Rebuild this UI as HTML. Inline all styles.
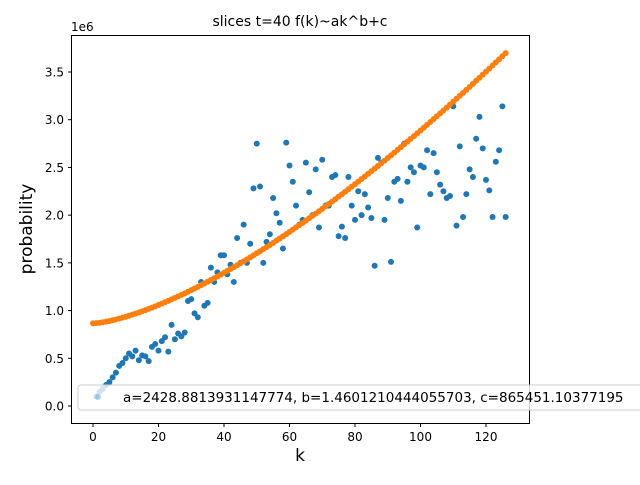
<!DOCTYPE html>
<html><head><meta charset="utf-8"><style>
body{margin:0;background:#fff;}
svg{font-family:"DejaVu Sans","Liberation Sans",sans-serif;}
</style></head><body>
<svg id="chart" width="640" height="480">
<rect x="0" y="0" width="640" height="480" fill="#fff"/>
<text x="300" y="26" font-size="14" text-anchor="middle">slices t=40 f(k)~ak^b+c</text>
<text x="71" y="31" font-size="12">1e6</text>
<g id="plot"></g>
<rect x="71.5" y="35.5" width="458" height="388" fill="none" stroke="#000" stroke-width="1"/>
<text x="300" y="461" font-size="17" text-anchor="middle">k</text>
<text transform="translate(32,229) rotate(-90)" font-size="17" text-anchor="middle">probability</text>
<g>
<rect x="78" y="385" width="580" height="25" rx="3" fill="#fff" fill-opacity="0.8" stroke="#ccc"/>
<circle cx="98" cy="397" r="3" fill="#1f77b4" opacity="0.3"/>
<text x="123" y="402" font-size="13.5">a=2428.8813931147774, b=1.4601210444055703, c=865451.10377195</text>
</g>
</svg>
<script>
const ks=[];for(let i=1;i<=126;i++)ks.push(i);
const values=[0.1,0.15,0.18,0.22,0.25,0.3,0.35,0.42,0.45,0.5,0.55,0.52,0.58,0.48,0.53,0.52,0.47,0.62,0.65,0.58,0.68,0.72,0.57,0.85,0.7,0.76,0.73,0.77,1.1,1.12,0.97,0.93,1.3,1.05,1.08,1.45,1.3,1.4,1.58,1.58,1.38,1.48,1.3,1.76,1.5,1.9,1.5,1.7,2.28,2.75,2.3,1.5,1.72,1.8,2.18,2.02,1.92,1.65,2.76,2.52,2.35,2.1,1.9,1.95,2.55,2.24,2.0,2.48,1.87,2.58,2.1,2.1,2.4,2.42,1.78,1.88,1.76,2.4,2.1,1.95,2.25,2.0,2.22,2.08,1.97,1.47,2.6,2.55,1.95,2.18,1.51,2.35,2.38,2.15,2.75,2.35,2.5,2.45,1.87,2.52,2.5,2.68,2.22,2.65,2.45,2.32,2.25,2.18,2.2,3.14,1.89,2.72,1.98,2.22,2.48,2.4,2.8,3.03,2.7,2.37,2.26,1.98,2.56,2.68,3.14,1.98];
const fitA=[2428.8813931147774];const fitB=[1.4601210444055703];const fitC=[865451.10377195];
const xTicks=[0,20,40,60,80,100,120];
const yTicks=[0,0.5,1.0,1.5,2.0,2.5,3.0,3.5];
const yTickLabels=["0.0","0.5","1.0","1.5","2.0","2.5","3.0","3.5"];
const xs=k=>93+k*3.275, ys=v=>406-v*95.43;
const NS="http://www.w3.org/2000/svg";
const g=document.getElementById('plot');
function mk(t,a){const e=document.createElementNS(NS,t);for(const k in a)e.setAttribute(k,a[k]);return e;}
xTicks.forEach(t=>{
 const l=mk('line',{x1:xs(t),x2:xs(t),y1:423.5,y2:427,stroke:'#000'});
 
 
 g.appendChild(l);
 const tx=mk('text',{x:xs(t),y:441,'font-size':12,'text-anchor':'middle'});tx.textContent=t;
 
 
 g.appendChild(tx);
});
yTicks.forEach((t,i)=>{
 const l=mk('line',{x1:68,x2:71.5,y1:ys(t),y2:ys(t),stroke:'#000'});
 
 
 g.appendChild(l);
 const tx=mk('text',{x:64,y:ys(t)+4.5,'font-size':12,'text-anchor':'end'});tx.textContent=yTickLabels[i];
 
 
 g.appendChild(tx);
});
ks.forEach((k,i)=>{
 const c=mk('circle',{cx:xs(k),cy:ys(values[i]),r:3,fill:'#1f77b4'});
 
 
 g.appendChild(c);
});
for(let k=0;k<=126;k++){
 const v=(fitA[0]*Math.pow(k,fitB[0])+fitC[0])/1e6;
 const c=mk('circle',{cx:xs(k),cy:ys(v),r:3,fill:'#ff7f0e'});
 
 
 g.appendChild(c);
}
</script>
</body></html>
